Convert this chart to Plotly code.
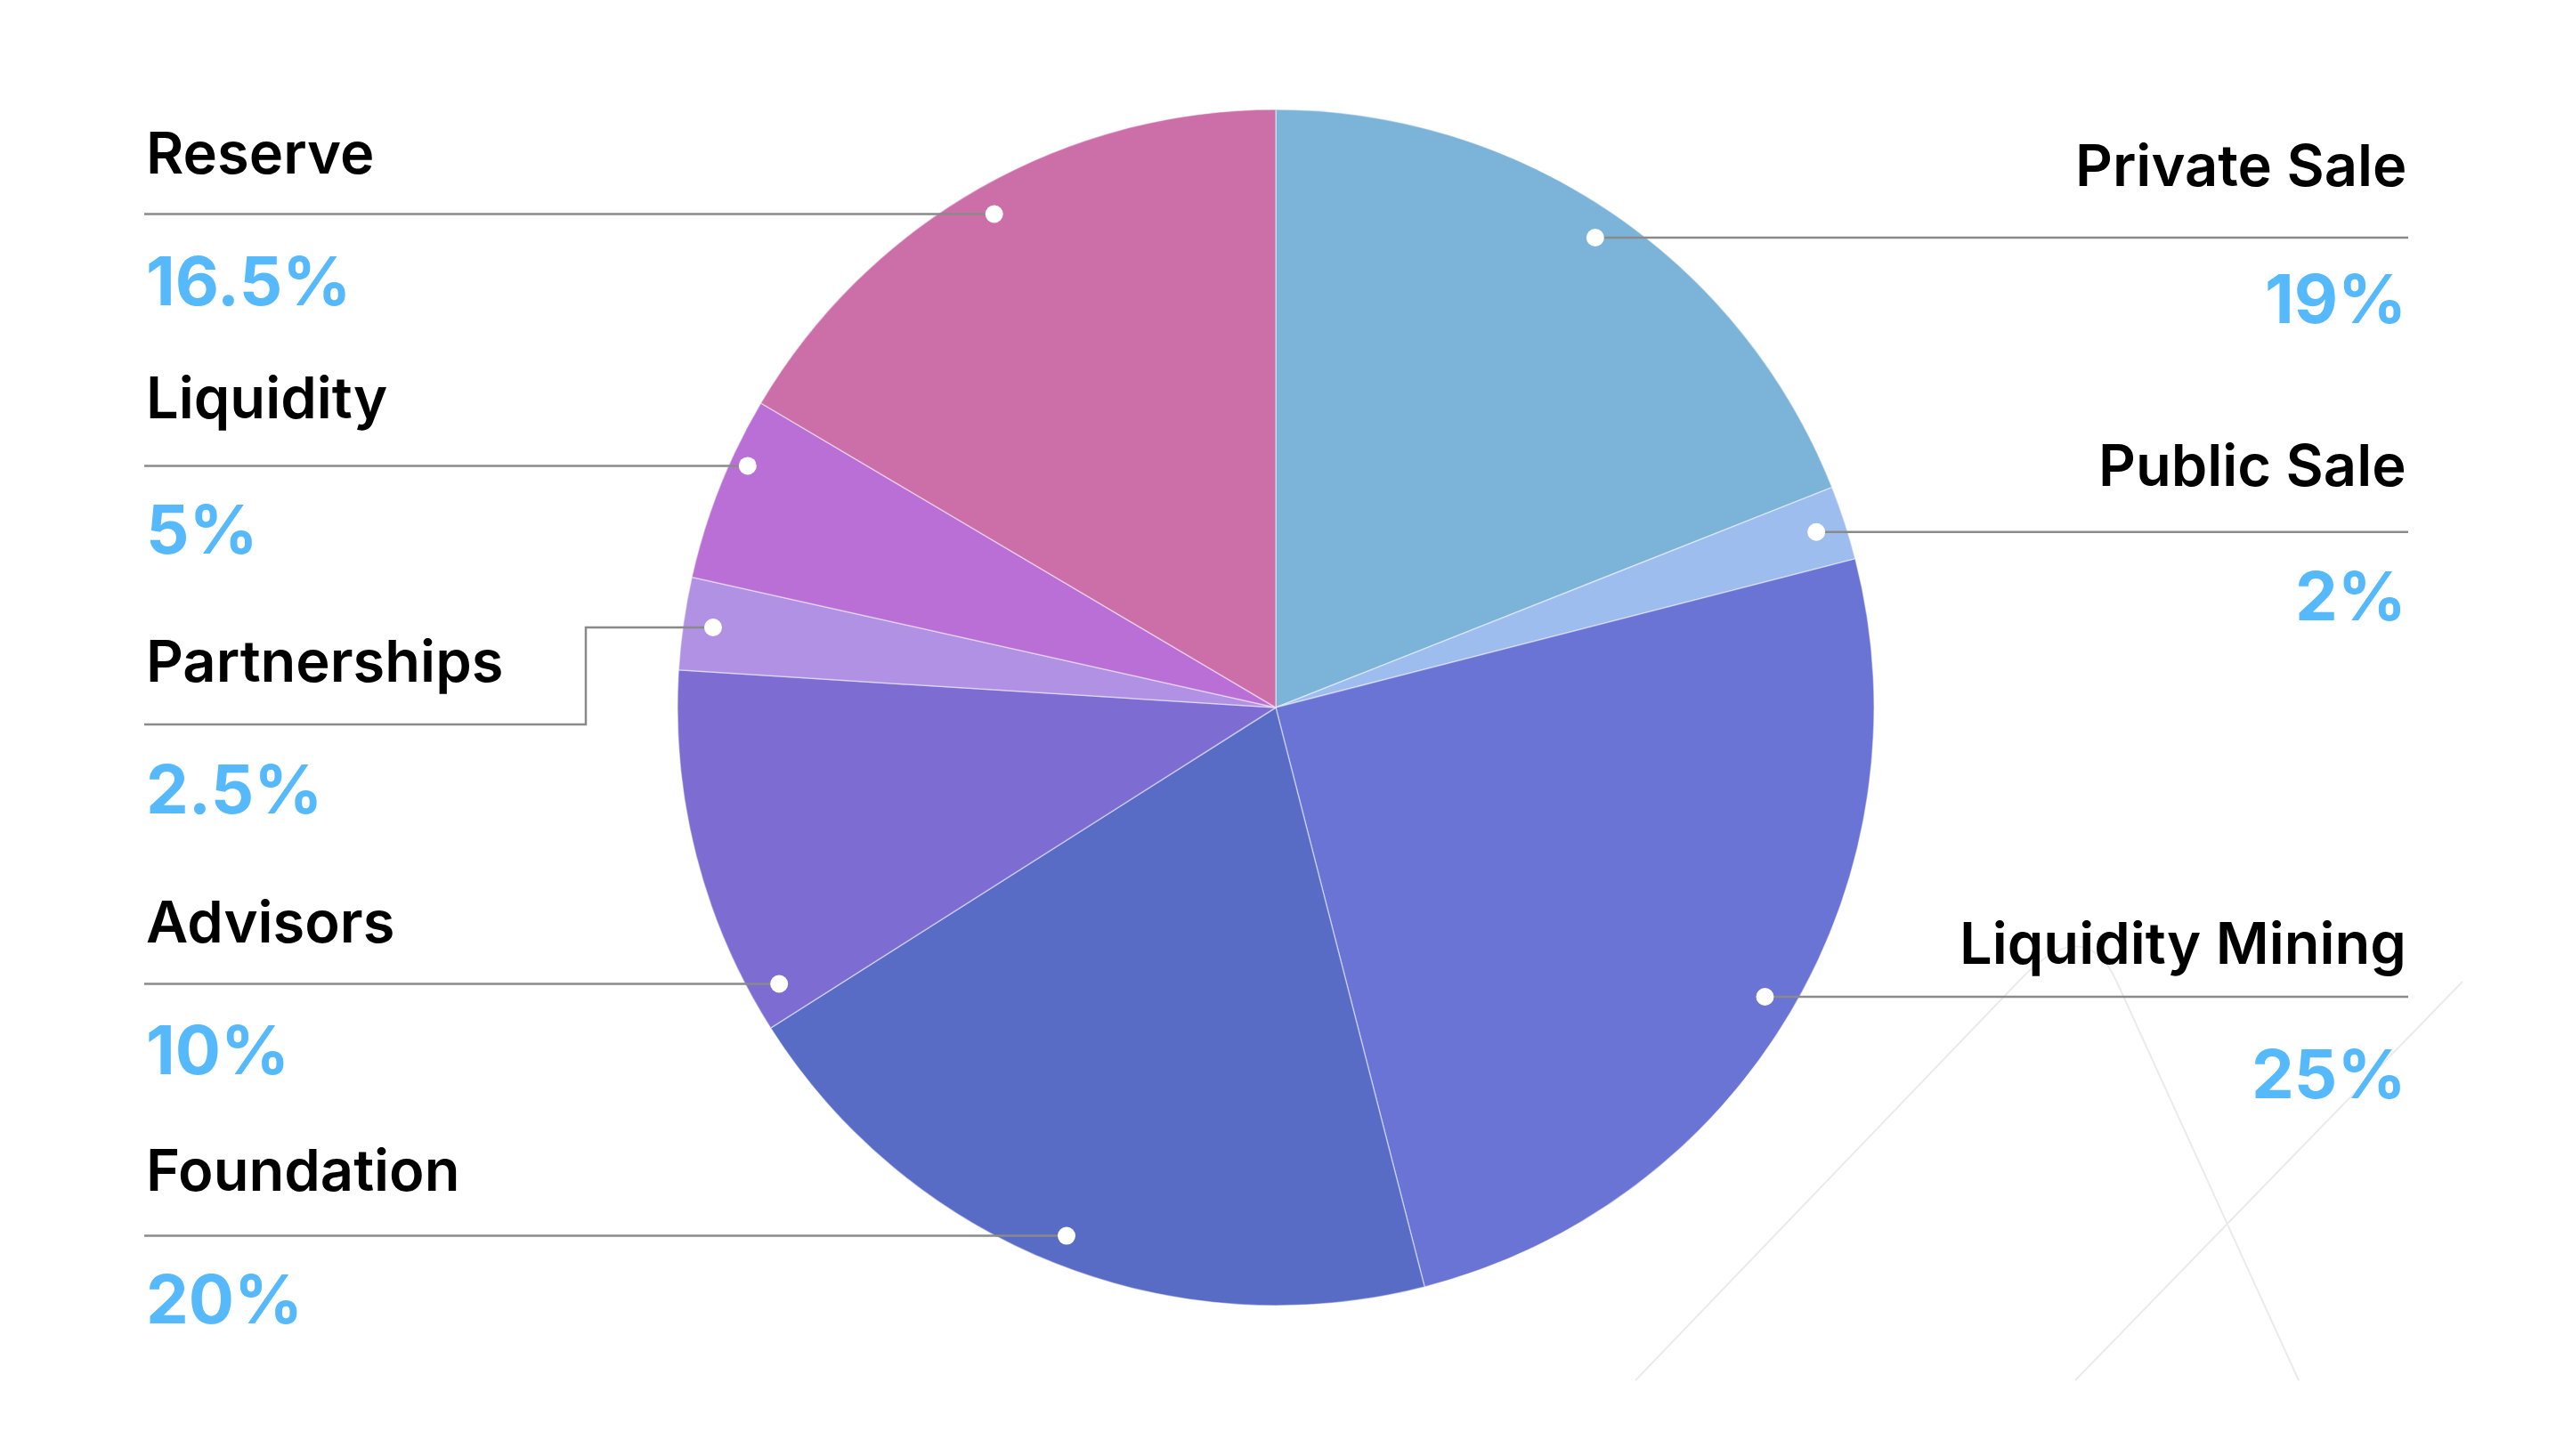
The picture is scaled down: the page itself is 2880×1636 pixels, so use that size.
import math
import plotly.graph_objects as go

W, H = 2880, 1636
PAGE_PAD = 8  # body margin of the html page

# slices, clockwise from 12 o'clock
labels = ["Private Sale", "Public Sale", "Liquidity Mining", "Foundation",
          "Advisors", "Partnerships", "Liquidity", "Reserve"]
shares = [19, 2, 25, 20, 10, 2.5, 5, 16.5]
pct_text = ["19%", "2%", "25%", "20%", "10%", "2.5%", "5%", "16.5%"]
colors = ["#7bb4d8", "#9dbdef", "#6a74d4", "#586cc6",
          "#7d6dd3", "#b091e3", "#ba6fd6", "#cc6fa8"]

# layout (screen pixels)
CX, CY, R = 1433, 795, 672
DOT_R = 0.95 * R
LEFT_X, RIGHT_X = 162, 2705
label_y = {"Private Sale": 185, "Public Sale": 522, "Liquidity Mining": 1059,
           "Foundation": 1314, "Advisors": 1035, "Partnerships": 742,
           "Liquidity": 446, "Reserve": 171}
pct_y = {"Private Sale": 335, "Public Sale": 669, "Liquidity Mining": 1206,
         "Foundation": 1459, "Advisors": 1179, "Partnerships": 886,
         "Liquidity": 594, "Reserve": 315}
# label collision tweaks: (angle shift in degrees, dot radius factor)
nudge = {"Advisors": (-14.7, 1.0), "Liquidity": (3.0, 1.022)}
elbow = {"Partnerships": (658, 814)}

LINE_COLOR = "#8a8a8a"
PCT_COLOR = "#55b9fb"

FW, FH = W - 2 * PAGE_PAD, H - 2 * PAGE_PAD


def px(x):
    return (x - PAGE_PAD) / FW


def py(y):
    return 1 - (y - PAGE_PAD) / FH


fig = go.Figure(
    go.Pie(
        labels=labels,
        values=shares,
        sort=False,
        direction="clockwise",
        rotation=0,
        marker=dict(colors=colors, line=dict(color="rgba(255,255,255,0.45)", width=1.5)),
        textinfo="none",
        hoverinfo="label+percent",
        showlegend=False,
        domain=dict(x=[px(CX - R), px(CX + R)], y=[py(CY + R), py(CY - R)]),
    )
)

shapes = []
annotations = []
total = sum(shares)
cum = 0
for name, val, pct in zip(labels, shares, pct_text):
    mid = (cum + val / 2) / total
    cum += val
    shift, rf = nudge.get(name, (0, 1.0))
    ang = math.radians(mid * 360 + shift)
    dx = CX + DOT_R * rf * math.sin(ang)
    dy = CY - DOT_R * rf * math.cos(ang)
    left = dx < CX
    edge = LEFT_X if left else RIGHT_X

    # leader line
    if name in elbow:
        ex, ey = elbow[name]
        path = f"M {px(edge)},{py(ey)} L {px(ex)},{py(ey)} L {px(ex)},{py(dy)} L {px(dx)},{py(dy)}"
    else:
        path = f"M {px(edge)},{py(dy)} L {px(dx)},{py(dy)}"
    shapes.append(dict(type="path", xref="paper", yref="paper", path=path,
                       line=dict(color=LINE_COLOR, width=2.5)))
    shapes.append(dict(type="circle", xref="paper", yref="paper",
                       x0=px(dx - 10), x1=px(dx + 10), y0=py(dy + 10), y1=py(dy - 10),
                       fillcolor="white", line=dict(width=0)))

    anchor = "left" if left else "right"
    annotations.append(dict(x=px(edge), y=py(label_y[name]), xref="paper", yref="paper",
                            text=name, showarrow=False, xanchor=anchor, yanchor="middle",
                            font=dict(family="Inter", size=65, color="#000000", weight=600)))
    annotations.append(dict(x=px(edge), y=py(pct_y[name]), xref="paper", yref="paper",
                            text=pct, showarrow=False, xanchor=anchor, yanchor="middle",
                            font=dict(family="Inter", size=76, color=PCT_COLOR, weight=700)))

# faint decorative strokes in the lower right corner
deco = [
    "M 1837,1551 L 2268,1102 Q 2342,1024 2378,1104 L 2582,1551",
    "M 2331,1551 L 2766,1103",
]
for d in deco:
    pts = []
    for tok in d.split():
        if "," in tok:
            a, b = tok.split(",")
            pts.append(f"{px(float(a))},{py(float(b))}")
        else:
            pts.append(tok)
    shapes.insert(0, dict(type="path", xref="paper", yref="paper", layer="below",
                          path=" ".join(pts), line=dict(color="#ebebeb", width=2)))

fig.update_layout(
    width=FW,
    height=FH,
    margin=dict(l=0, r=0, t=0, b=0),
    paper_bgcolor="white",
    plot_bgcolor="white",
    shapes=shapes,
    annotations=annotations,
)

fig.write_html("out.html")
